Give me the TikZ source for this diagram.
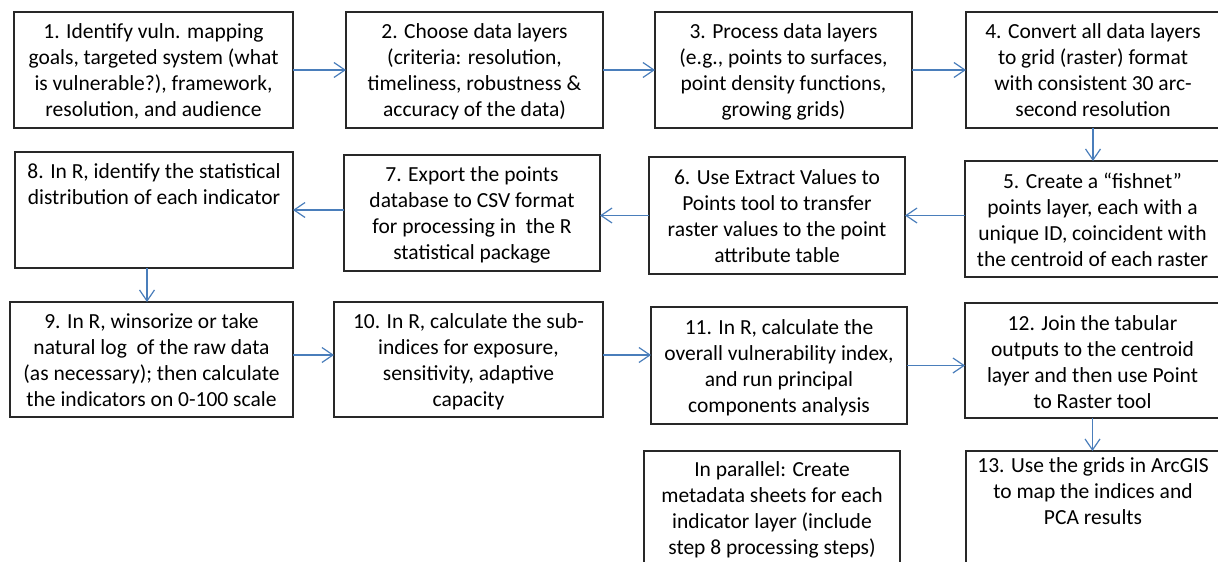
\documentclass[tikz,border=0pt]{standalone}
\usepackage{fontspec}
\setmainfont{Carlito}
\usetikzlibrary{arrows.meta,calc}
\definecolor{arrowblue}{RGB}{74,126,187}
\definecolor{boxline}{RGB}{40,40,40}
\newcommand{\lblfont}{\fontsize{21.5}{26}\selectfont}
% name, x1, y1, x2, y2, baseline offset, text
\newcommand{\flowbox}[7]{%
  \node[stepbox, minimum width={(#4-#2)*1pt}, minimum height={(#5-#3)*1pt}] (#1) at (#2,#3) {};
  \node[lbl] (#1t) at ($(#1.north)+(0,#6-18.2)$) {#7};
}
\begin{document}
\begin{tikzpicture}[x=1pt,y=-1pt,
  stepbox/.style={draw=boxline, line width=1.3pt, inner sep=0pt, outer sep=0pt, anchor=north west},
  lbl/.style={inner sep=0pt, outer sep=0pt, anchor=north, align=center, font=\lblfont, execute at begin node=\strut},
  flow/.style={draw=arrowblue, line width=1.2pt, -{Straight Barb[length=11pt,width=15pt,line width=1.2pt]}}]
\useasboundingbox (0,0) rectangle (1218,562);

% row 1
\flowbox{b1}{14}{12}{293}{128}{30}{1. Identify vuln. mapping\\goals, targeted system (what\\is vulnerable?), framework,\\resolution, and audience}
\flowbox{b2}{346}{12}{603}{128}{30}{2. Choose data layers\\(criteria: resolution,\\timeliness, robustness \&\\accuracy of the data)}
\flowbox{b3}{655}{12}{912}{128}{30}{3. Process data layers\\(e.g., points to surfaces,\\point density functions,\\growing grids)}
\flowbox{b4}{966}{12}{1220}{128}{30}{4. Convert all data layers\\to grid (raster) format\\with consistent 30 arc-\\second resolution}

% row 2
\flowbox{b8}{15}{152}{293}{268}{30}{8. In R, identify the statistical\\distribution of each indicator}
\flowbox{b7}{344}{155}{600}{271}{30}{7. Export the points\\database to CSV format\\for processing in~ the R\\statistical package}
\flowbox{b6}{649}{157}{905}{274}{31}{6. Use Extract Values to\\Points tool to transfer\\raster values to the point\\attribute table}
\flowbox{b5}{965}{161}{1220}{277}{30}{5. Create a “fishnet”\\points layer, each with a\\unique ID, coincident with\\the centroid of each raster}

% row 3
\flowbox{b9}{10}{302}{293}{417}{30}{9. In R, winsorize or take\\natural log~ of the raw data\\(as necessary); then calculate\\the indicators on 0-100 scale}
\flowbox{b10}{334}{302}{603}{417}{30}{10. In R, calculate the sub-\\indices for exposure,\\sensitivity, adaptive\\capacity}
\flowbox{b11}{651}{307}{907}{424}{31}{11. In R, calculate the\\overall vulnerability index,\\and run principal\\components analysis}
\flowbox{b12}{965}{303}{1220}{418}{31}{12. Join the tabular\\outputs to the centroid\\layer and then use Point\\to Raster tool}

% row 4
\flowbox{bp}{644}{451}{900}{575}{29}{In parallel: Create\\metadata sheets for each\\indicator layer (include\\step 8 processing steps)}
\flowbox{b13}{966}{451}{1220}{575}{25}{13. Use the grids in ArcGIS\\to map the indices and\\PCA results}

% connectors
\draw[flow] (b1.east) -- (b1.east -| b2.west);
\draw[flow] (b2.east) -- (b2.east -| b3.west);
\draw[flow] (b3.east) -- (b3.east -| b4.west);
\draw[flow] (b4.south) -- (b4.south |- b5.north);
\draw[flow] (b6.east -| b5.west) -- (b6.east);
\draw[flow] (b6.west) -- (b6.west -| b7.east);
\draw[flow] (b8.east -| b7.west) -- (b8.east);
\coordinate (a8) at ([xshift=-7pt]b8.south);
\draw[flow] (a8) -- (a8 |- b9.north);
\coordinate (a9) at ([yshift=4.5pt]b9.east);
\draw[flow] (a9) -- (a9 -| b10.west);
\coordinate (a10) at ([yshift=4.5pt]b10.east);
\draw[flow] (a10) -- (a10 -| b11.west);
\draw[flow] (b11.east) -- (b11.east -| b12.west);
\draw[flow] (b12.south) -- (b12.south |- b13.north);
\end{tikzpicture}
\end{document}
